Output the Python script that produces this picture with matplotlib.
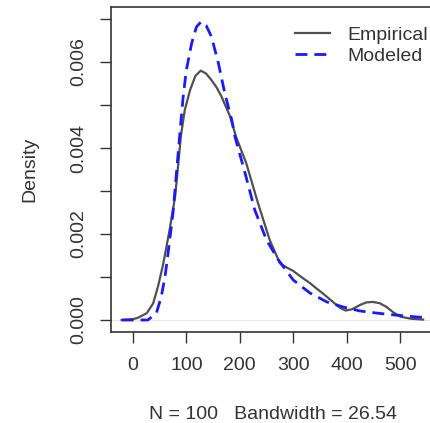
import matplotlib
matplotlib.use("Agg")
import matplotlib.pyplot as plt

# empirical kernel density (gray, solid), density in units of 1e-3
emp_x = [-21, 0, 9, 26, 38, 47, 57, 68, 79, 90, 97, 107, 117, 127, 137, 147,
         157, 166, 182, 193, 212, 234, 256, 275, 288, 300, 315, 331, 347, 363,
         378, 388, 398, 410, 425, 437, 449, 462, 475, 487, 500, 520, 543]
emp_y = [0.0, 0.02, 0.05, 0.16, 0.39, 0.78, 1.32, 2.05, 2.87, 4.3, 4.88,
         5.35, 5.68, 5.80, 5.73, 5.58, 5.40, 5.19, 4.73, 4.26, 3.65, 2.72,
         1.86, 1.32, 1.22, 1.14, 1.0, 0.86, 0.70, 0.54, 0.38, 0.28, 0.22,
         0.25, 0.35, 0.41, 0.42, 0.39, 0.30, 0.18, 0.08, 0.03, 0.01]

# modeled density (blue, dashed), density in units of 1e-3
mod_x = [-21, 0, 28, 44, 53, 60, 65, 75, 82, 88, 94, 100, 110, 119, 128, 137,
         147, 160, 172, 185, 191, 210, 228, 250, 272, 300, 331, 363, 394, 425,
         457, 487, 532, 545]
mod_y = [0.0, 0.0, 0.0, 0.16, 0.54, 1.0, 1.47, 2.49, 3.49, 4.35, 5.19, 5.81,
         6.44, 6.82, 6.94, 6.85, 6.59, 5.97, 5.27, 4.65, 4.26, 3.41, 2.56,
         1.86, 1.40, 0.93, 0.63, 0.42, 0.30, 0.21, 0.16, 0.12, 0.07, 0.06]

x_ticks = [0, 100, 200, 300, 400, 500]
y_ticks = [0.000, 0.001, 0.002, 0.003, 0.004, 0.005, 0.006, 0.007]
y_labels = ["0.000", "", "0.002", "", "0.004", "", "0.006", ""]

plt.rcParams["font.family"] = ["Liberation Sans", "DejaVu Sans"]
plt.rcParams["font.size"] = 14

fig = plt.figure(figsize=(4.31, 4.23), dpi=100)
ax = fig.add_axes([0.2575, 0.215, 0.754, 0.7685])

ax.axhline(0, color="#e6e6e6", lw=0.8, zorder=1)
ax.plot(emp_x, [v / 1000 for v in emp_y], color="#505050", lw=1.6,
        label="Empirical", zorder=3)
ax.plot(mod_x, [v / 1000 for v in mod_y], color="#1a1aff", lw=2.0,
        dashes=(4.3, 2.5), label="Modeled", zorder=4)

ax.set_xlim(-41, 567)
ax.set_ylim(-0.00028, 0.00728)
ax.set_xticks(x_ticks)
ax.set_xticklabels([str(t) for t in x_ticks])
ax.set_yticks(y_ticks)
ax.set_yticklabels(y_labels, rotation=90, va="center")

for s in ax.spines.values():
    s.set_color("#333333")
    s.set_linewidth(1.2)
ax.tick_params(axis="both", length=8, width=1.0, color="#333333",
               labelcolor="#333333")
ax.tick_params(axis="x", pad=10)
ax.tick_params(axis="y", pad=9)

ax.set_xlabel("N = 100   Bandwidth = 26.54", color="#333333", labelpad=23)
ax.set_ylabel("Density", color="#333333", labelpad=23)

leg = ax.legend(loc="upper left", bbox_to_anchor=(0.541, 0.964),
                frameon=False, handlelength=1.8, handletextpad=0.9,
                labelspacing=0.15, borderaxespad=0)
for t in leg.get_texts():
    t.set_color("#333333")

fig.savefig("out.png", dpi=100)
